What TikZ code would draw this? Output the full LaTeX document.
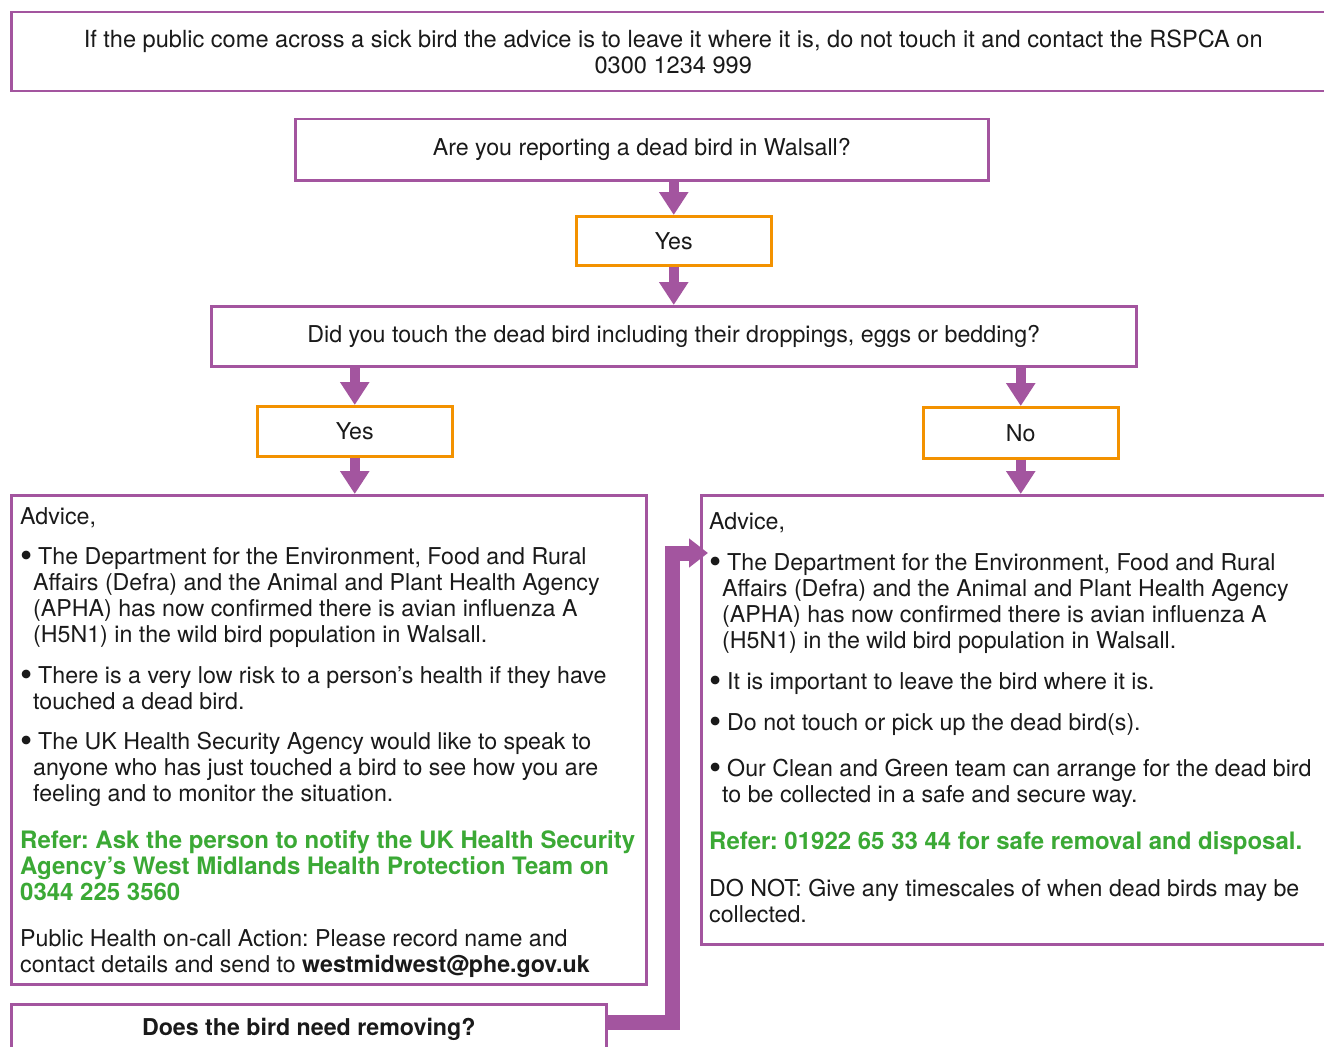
\documentclass[tikz,border=0pt]{standalone}
\usepackage{fontspec}
\setmainfont{TeX Gyre Heros}
\usetikzlibrary{arrows.meta}
\definecolor{pur}{HTML}{A3559F}
\definecolor{org}{HTML}{F39200}
\definecolor{grn}{HTML}{3BA935}
\definecolor{txt}{HTML}{1A1A1A}
\frenchspacing
\tikzset{
  pbox/.style={draw=pur, line width=2.5pt, anchor=north west, inner sep=0pt, text=txt, font=\fontsize{23.2}{26}\selectfont, align=center},
  obox/.style={draw=org, line width=2.5pt, anchor=north west, inner sep=0pt, text=txt, font=\fontsize{23.2}{26}\selectfont},
  darrow/.style={draw=pur, line width=10pt, -{Triangle[width=28pt,length=23pt]}},
  earrow/.style={draw=pur, line width=15pt, line join=miter, -{Triangle[width=28pt,length=19pt]}},
  para/.style={anchor=base west, inner sep=0pt, text=txt},
}
\newcommand{\bul}{\makebox[18pt][l]{\hspace{0.5pt}\raisebox{-3.5pt}{\scalebox{1.5}{•}}}}
\newcommand{\cont}{\hspace*{13pt}}
\newcommand{\grb}{\fontsize{24}{26}\selectfont\bfseries\color{grn}}
\begin{document}
\begin{tikzpicture}[x=1pt,y=-1pt]
\useasboundingbox (0,0) rectangle (1324,1046);
\clip (0,0) rectangle (1324,1046);
\fill[white] (0,0) rectangle (1324,1046);

\node[pbox, minimum width=1324pt, minimum height=79pt, font=\fontsize{23.6}{26}\selectfont] (top) at (10,11)
  {If the public come across a sick bird the advice is to leave it where it is, do not touch it and contact the RSPCA on\\0300 1234 999};
\node[pbox, minimum width=693pt, minimum height=61pt] (q1) at (294,118) {Are you reporting a dead bird in Walsall?};
\node[obox, minimum width=195pt, minimum height=49pt] (y1) at (575,215) {Yes};
\node[pbox, minimum width=925pt, minimum height=60pt] (q2) at (210,305) {Did you touch the dead bird including their droppings, eggs or bedding?};
\node[obox, minimum width=195pt, minimum height=50pt] (yL) at (256,405) {Yes};
\node[obox, minimum width=195pt, minimum height=51pt] (nR) at (922,406) {No};
\node[pbox, minimum width=635pt, minimum height=489pt] (aL) at (10,494) {};
\node[pbox, minimum width=640pt, minimum height=449pt] (aR) at (700,494) {};
\node[pbox, minimum width=595pt, minimum height=50pt, font=\fontsize{23.2}{26}\selectfont\bfseries] (bot) at (10,1003) {Does the bird need removing?};

\draw[darrow] (q1.south -| y1.north) -- (y1.north);
\draw[darrow] (y1.south) -- (q2.north -| y1.south);
\draw[darrow] (q2.south -| yL.north) -- (yL.north);
\draw[darrow] (q2.south -| nR.north) -- (nR.north);
\draw[darrow] (yL.south) -- (aL.north -| yL.south);
\draw[darrow] (nR.south) -- (aR.north -| nR.south);

\coordinate (tipR) at (708,553);
\draw[earrow] ([yshift=-19pt]bot.north east) -- ++(65,0) |- (tipR);

\node[para] (tL) at (20,524) {\parbox[t]{640pt}{\fontsize{23.2}{26}\selectfont\raggedright
Advice,\\[14pt]
\bul The Department for the Environment, Food and Rural\\
\cont Affairs (Defra) and the Animal and Plant Health Agency\\
\cont (APHA) has now confirmed there is avian influenza A\\
\cont (H5N1) in the wild bird population in Walsall.\\[15pt]
\bul There is a very low risk to a person’s health if they have\\
\cont touched a dead bird.\\[14pt]
\bul The UK Health Security Agency would like to speak to\\
\cont anyone who has just touched a bird to see how you are\\
\cont feeling and to monitor the situation.\\[21pt]
{\grb Refer: Ask the person to notify the UK Health Security\\Agency’s West Midlands Health Protection Team on\\0344 225 3560}\\[20pt]
Public Health on-call Action: Please record name and\\
contact details and send to \textbf{westmidwest@phe.gov.uk}}};

\node[para] (tR) at (709,529) {\parbox[t]{640pt}{\fontsize{23.2}{26}\selectfont\raggedright
Advice,\\[15pt]
\bul The Department for the Environment, Food and Rural\\
\cont Affairs (Defra) and the Animal and Plant Health Agency\\
\cont (APHA) has now confirmed there is avian influenza A\\
\cont (H5N1) in the wild bird population in Walsall.\\[15pt]
\bul It is important to leave the bird where it is.\\[15pt]
\bul Do not touch or pick up the dead bird(s).\\[20pt]
\bul Our Clean and Green team can arrange for the dead bird\\
\cont to be collected in a safe and secure way.\\[21pt]
{\grb Refer: 01922 65 33 44 for safe removal and disposal.}\\[21pt]
DO NOT: Give any timescales of when dead birds may be\\
collected.}};
\end{tikzpicture}
\end{document}
